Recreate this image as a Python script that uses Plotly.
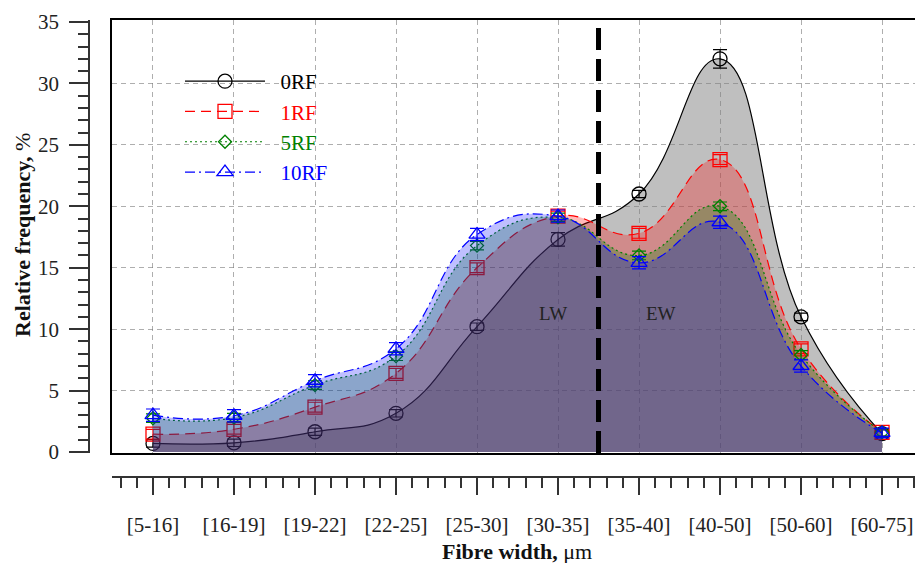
import plotly.graph_objects as go

# Fibre-width classes and relative frequencies (%) for each treatment
categories = ["[5-16]", "[16-19]", "[19-22]", "[22-25]", "[25-30]",
              "[30-35]", "[35-40]", "[40-50]", "[50-60]", "[60-75]"]
freq_0rf = [0.7, 0.75, 1.65, 3.15, 10.2, 17.3, 21.0, 32.0, 11.0, 1.5]
freq_1rf = [1.45, 1.85, 3.65, 6.4, 15.0, 19.2, 17.8, 23.8, 8.4, 1.6]
freq_5rf = [2.75, 2.8, 5.45, 7.8, 16.8, 19.1, 16.0, 20.0, 7.9, 1.6]
freq_10rf = [3.0, 2.95, 5.8, 8.4, 17.7, 19.2, 15.4, 18.7, 7.0, 1.55]

err_0rf = [0.3, 0.3, 0.3, 0.3, 0.3, 0.55, 0.3, 0.75, 0.3, 0.3]
err_1rf = [0.4, 0.4, 0.4, 0.4, 0.4, 0.4, 0.4, 0.4, 0.4, 0.3]
err_5rf = [0.35, 0.35, 0.35, 0.35, 0.35, 0.35, 0.35, 0.35, 0.35, 0.3]
err_10rf = [0.5, 0.5, 0.5, 0.5, 0.5, 0.5, 0.5, 0.5, 0.5, 0.4]

y_ticks = [0, 5, 10, 15, 20, 25, 30, 35]
lw_ew_boundary = 5.5  # between [30-35] and [35-40]

FONT = "Liberation Serif"
x_pos = list(range(len(categories)))

series = [
    ("0RF", freq_0rf, err_0rf, "#000000", "solid", "circle-open", 14, "rgba(128,128,128,0.5)"),
    ("1RF", freq_1rf, err_1rf, "#ff0000", "10px,6px", "square-open", 14, "rgba(255,0,0,0.27)"),
    ("5RF", freq_5rf, err_5rf, "#008000", "2px,3px", "diamond-open", 10, "rgba(0,128,0,0.27)"),
    ("10RF", freq_10rf, err_10rf, "#0000ff", "10px,4px,2px,4px", "triangle-up-open", 14, "rgba(0,0,255,0.25)"),
]

fig = go.Figure()

for name, vals, errs, color, dash, symbol, size, fillcolor in series:
    fig.add_trace(go.Scatter(
        x=x_pos, y=vals, name=name, showlegend=False,
        mode="lines+markers",
        line=dict(color=color, width=1.2, dash=dash, shape="spline", smoothing=1.3),
        marker=dict(symbol=symbol, size=size, color=color, line=dict(color=color, width=1.3)),
        fill="tozeroy", fillcolor=fillcolor,
        error_y=dict(type="data", array=errs, visible=True, color=color, thickness=1.2, width=7),
        xaxis="x", yaxis="y",
    ))

# legend entries (line + marker only, no fill swatch)
for i, (name, vals, errs, color, dash, symbol, size, fillcolor) in enumerate(series):
    fig.add_trace(go.Scatter(
        x=[None], y=[None], mode="lines+markers",
        name=f"&nbsp;&nbsp;<span style='color:{color}'>{name}</span>",
        legendgroup=f"g{i}",
        line=dict(color=color, width=1.2, dash=dash),
        marker=dict(symbol=symbol, size=size, color=color, line=dict(color=color, width=1.3)),
        xaxis="x", yaxis="y",
    ))

# LW / EW separator
fig.add_shape(type="line", xref="x", yref="y domain",
              x0=lw_ew_boundary, x1=lw_ew_boundary, y0=0, y1=1,
              line=dict(color="black", width=5, dash="22px,9px"), layer="above")

# plot area occupies x 112..915 px and y 20..453 px; outer axes sit at x=90 and y=477
W, H = 915, 563
m_t, m_b = 20, 86
ph = H - m_t - m_b
x_dom0 = 112 / W
y_dom0 = (477 - 453) / ph

x_range = [-0.506, 9.407]
y_range = [-0.081, 35.163]

TICKFONT = dict(family=FONT, size=21, color="#222222")

fig.update_layout(
    width=W, height=H,
    margin=dict(l=0, r=0, t=m_t, b=m_b, pad=0),
    paper_bgcolor="white", plot_bgcolor="rgba(0,0,0,0)",
    font=dict(family=FONT, size=21, color="#222222"),
    xaxis=dict(domain=[x_dom0, 1], range=x_range, showline=True, linecolor="black", linewidth=1.5,
               mirror=True, ticks="", showticklabels=False, zeroline=False,
               showgrid=True, tickmode="array", tickvals=x_pos,
               gridcolor="rgba(120,120,120,0.6)", griddash="5px,4px", gridwidth=1),
    yaxis=dict(domain=[y_dom0, 1], range=y_range, showline=True, linecolor="black", linewidth=1.5,
               ticks="", showticklabels=False, zeroline=False,
               showgrid=True, tickmode="array", tickvals=y_ticks[1:-1],
               gridcolor="rgba(120,120,120,0.6)", griddash="5px,4px", gridwidth=1),
    # detached category axis below the frame
    xaxis2=dict(domain=[x_dom0, 1], range=x_range, overlaying="x", anchor="free", position=0,
                side="bottom", showline=True, linecolor="#333333", linewidth=1.5,
                tickmode="array", tickvals=x_pos, ticktext=categories,
                ticks="outside", ticklen=17, tickwidth=1.5, tickcolor="#333333",
                ticklabelstandoff=12, showgrid=False, zeroline=False,
                minor=dict(tickmode="linear", tick0=0, dtick=0.2, ticks="outside",
                           ticklen=10, tickwidth=1.5, tickcolor="#333333", showgrid=False),
                tickfont=TICKFONT),
    # helper x axis whose left edge carries the detached value axis
    xaxis3=dict(domain=[90 / W, 1], range=[0, 1], visible=False, anchor="y2"),
    yaxis2=dict(domain=[y_dom0, 1], range=y_range, anchor="x3", side="left",
                showline=True, linecolor="#333333", linewidth=1.5,
                tickmode="array", tickvals=y_ticks,
                ticks="outside", ticklen=19, tickwidth=1.5, tickcolor="#333333",
                ticklabelstandoff=6, showgrid=False, zeroline=False,
                minor=dict(tickmode="linear", tick0=0, dtick=1, ticks="outside",
                           ticklen=10, tickwidth=1.5, tickcolor="#333333", showgrid=False),
                tickfont=TICKFONT),
    legend=dict(x=180 / W, y=(477 - 61) / ph, xanchor="left", yanchor="top",
                bgcolor="rgba(0,0,0,0)", tracegroupgap=0, itemwidth=80,
                font=dict(family=FONT, size=21)),
    showlegend=True,
)

# empty traces so the detached axes are rendered
fig.add_trace(go.Scatter(x=[None], y=[None], xaxis="x2", yaxis="y", showlegend=False, hoverinfo="skip"))
fig.add_trace(go.Scatter(x=[None], y=[None], xaxis="x3", yaxis="y2", showlegend=False, hoverinfo="skip"))

fig.add_annotation(text="LW", x=4.94, y=11.3, xref="x", yref="y", showarrow=False,
                   font=dict(family=FONT, size=19, color="#222222"))
fig.add_annotation(text="EW", x=6.27, y=11.3, xref="x", yref="y", showarrow=False,
                   font=dict(family=FONT, size=19, color="#222222"))

fig.add_annotation(text="<b>Relative frequency,</b> %", textangle=-90,
                   x=22 / W, y=(477 - 235) / ph, xref="paper", yref="paper",
                   xanchor="center", yanchor="middle",
                   showarrow=False, font=dict(family=FONT, size=22, color="#111111"))
fig.add_annotation(text="<b>Fibre width,</b> μm",
                   x=517 / W, y=(477 - 551) / ph, xref="paper", yref="paper",
                   xanchor="center", yanchor="middle",
                   showarrow=False, font=dict(family=FONT, size=22, color="#111111"))

fig.write_html("out.html")
